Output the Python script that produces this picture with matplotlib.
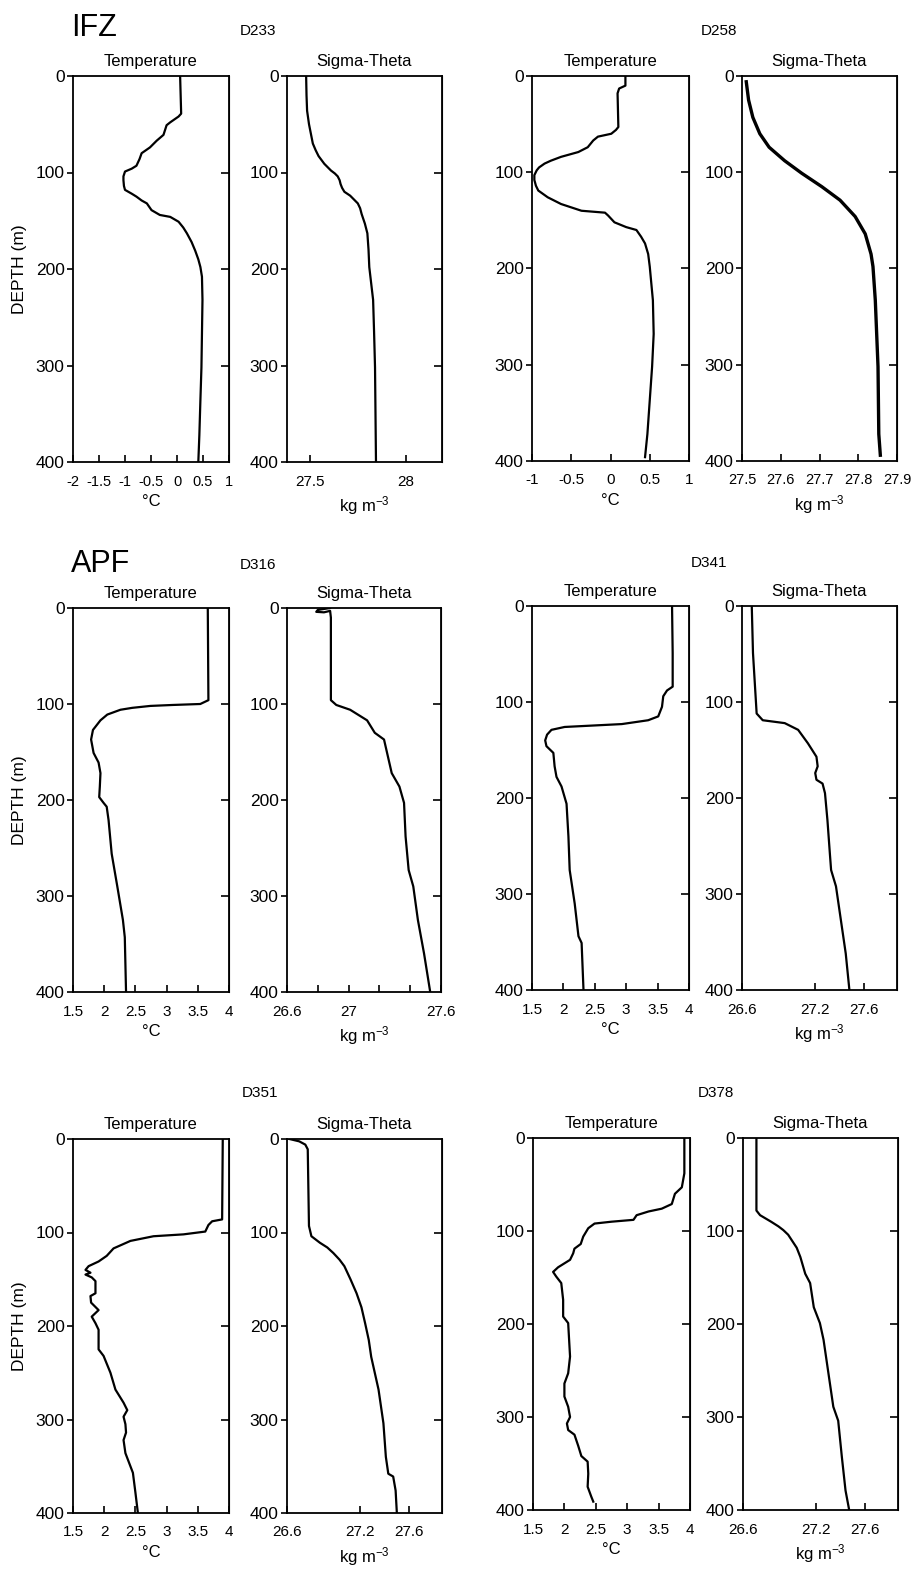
import numpy as np
import matplotlib.pyplot as plt

plt.rcParams['font.family'] = ['Liberation Sans', 'DejaVu Sans']
plt.rcParams['axes.unicode_minus'] = False
plt.rcParams['mathtext.default'] = 'regular'

# ---- data: (depth m, value) ----
d233_t_depth = [0, 39, 42, 48, 51, 56, 61, 67, 74, 80, 86, 93, 96, 99, 104, 108, 114, 118, 122, 125,
                129, 132, 139, 144, 146, 151, 157, 163, 172, 181, 190, 198, 208, 232, 267, 302, 336,
                372, 400]
d233_t = [0.06, 0.08, 0.03, -0.13, -0.2, -0.23, -0.26, -0.39, -0.52, -0.68, -0.72, -0.78, -0.87, -1.0,
          -1.03, -1.03, -1.02, -1.0, -0.87, -0.78, -0.68, -0.58, -0.49, -0.33, -0.13, 0.03, 0.12,
          0.19, 0.28, 0.35, 0.41, 0.45, 0.48, 0.49, 0.48, 0.47, 0.45, 0.43, 0.41]
d233_s_depth = [0, 20, 36, 50, 60, 70, 77, 83, 87, 91, 94, 98, 101, 104, 108, 112, 116, 120, 124, 128,
                132, 137, 143, 153, 163, 180, 198, 215, 232, 265, 302, 400]
d233_s = [27.48, 27.482, 27.485, 27.495, 27.505, 27.515, 27.53, 27.545, 27.56, 27.575, 27.59, 27.61,
          27.63, 27.645, 27.655, 27.66, 27.668, 27.68, 27.71, 27.73, 27.75, 27.762, 27.77, 27.787,
          27.80, 27.806, 27.81, 27.82, 27.83, 27.835, 27.84, 27.845]

d258_t_depth = [0, 10, 13, 18, 53, 56, 60, 63, 67, 74, 79, 84, 88, 91, 95, 98, 103, 108, 114, 119,
                126, 133, 140, 142, 145, 152, 157, 160, 167, 174, 185, 198, 233, 268, 302, 337, 372,
                396]
d258_t = [0.19, 0.19, 0.11, 0.09, 0.10, 0.07, 0.01, -0.16, -0.22, -0.29, -0.41, -0.63, -0.76, -0.84,
          -0.91, -0.94, -0.97, -0.97, -0.95, -0.92, -0.80, -0.63, -0.37, -0.07, -0.03, 0.05, 0.20,
          0.33, 0.39, 0.44, 0.48, 0.50, 0.54, 0.55, 0.53, 0.50, 0.47, 0.44]
d258_s_depth = [6, 25, 43, 60, 74, 88, 101, 115, 129, 146, 164, 185, 198, 233, 302, 372, 394]
d258_s = [27.511, 27.517, 27.528, 27.546, 27.57, 27.61, 27.654, 27.706, 27.753, 27.792, 27.818,
          27.833, 27.838, 27.844, 27.851, 27.853, 27.857]

d316_t_depth = [0, 96, 100, 101, 102, 104, 106, 111, 117, 127, 137, 151, 161, 172, 186, 197, 203, 207,
                221, 256, 290, 325, 343, 400]
d316_t = [3.66, 3.67, 3.54, 3.1, 2.74, 2.45, 2.26, 2.05, 1.94, 1.82, 1.79, 1.83, 1.91, 1.94, 1.93,
          1.92, 1.99, 2.04, 2.07, 2.12, 2.21, 2.30, 2.33, 2.35]
d316_s_depth = [0, 2, 4, 4.5, 3, 10, 96, 101, 106, 117, 130, 137, 151, 172, 186, 203, 238, 273, 290,
                325, 360, 400]
d316_s = [26.88, 26.80, 26.79, 26.84, 26.88, 26.885, 26.885, 26.92, 27.01, 27.12, 27.17, 27.23,
          27.25, 27.28, 27.33, 27.36, 27.37, 27.39, 27.42, 27.45, 27.49, 27.53]

d341_t_depth = [0, 49, 84, 88, 94, 105, 115, 119, 123, 126, 129, 134, 140, 146, 153, 167, 178, 188,
                206, 240, 275, 310, 344, 351, 400]
d341_t = [3.73, 3.74, 3.74, 3.65, 3.59, 3.57, 3.51, 3.35, 2.93, 2.02, 1.81, 1.74, 1.71, 1.73, 1.84,
          1.86, 1.89, 1.97, 2.05, 2.08, 2.10, 2.18, 2.24, 2.29, 2.32]
d341_s_depth = [0, 49, 112, 119, 122, 129, 143, 157, 167, 174, 181, 185, 195, 223, 258, 275, 292,
                327, 362, 400]
d341_s = [26.68, 26.69, 26.72, 26.77, 26.95, 27.06, 27.14, 27.21, 27.22, 27.20, 27.21, 27.26, 27.28,
          27.30, 27.32, 27.33, 27.37, 27.41, 27.45, 27.48]

d351_t_depth = [0, 86, 88, 92, 99, 102, 104, 109, 117, 125, 131, 136, 140, 143, 145, 148, 152, 165,
                168, 175, 183, 190, 197, 204, 225, 232, 250, 268, 282, 290, 297, 305, 314, 322, 336,
                350, 357, 378, 400]
d351_t = [3.90, 3.89, 3.73, 3.67, 3.62, 3.27, 2.79, 2.42, 2.15, 2.04, 1.91, 1.75, 1.70, 1.78, 1.70,
          1.80, 1.86, 1.86, 1.78, 1.79, 1.91, 1.80, 1.86, 1.91, 1.91, 1.99, 2.10, 2.18, 2.31, 2.37,
          2.31, 2.34, 2.35, 2.31, 2.34, 2.42, 2.46, 2.50, 2.54]
d351_s_depth = [0, 2.5, 6, 11, 93, 104, 111, 116, 122, 129, 136, 150, 165, 180, 197, 215, 233, 268,
                304, 340, 358, 361, 376, 400]
d351_s = [26.62, 26.70, 26.75, 26.77, 26.78, 26.80, 26.87, 26.93, 26.98, 27.03, 27.07, 27.12, 27.17,
          27.21, 27.24, 27.27, 27.29, 27.35, 27.39, 27.41, 27.43, 27.47, 27.49, 27.50]

d378_t_depth = [0, 38, 53, 60, 71, 76, 79, 83, 88, 90, 92, 97, 106, 114, 119, 124, 131, 139, 144,
                149, 156, 174, 192, 199, 235, 253, 264, 278, 289, 300, 307, 314, 319, 331, 342, 348,
                361, 375, 386, 391]
d378_t = [3.91, 3.91, 3.87, 3.76, 3.71, 3.55, 3.34, 3.15, 3.10, 2.75, 2.48, 2.38, 2.30, 2.26, 2.16,
          2.14, 2.09, 1.90, 1.82, 1.87, 1.95, 1.98, 1.98, 2.06, 2.09, 2.06, 2.00, 2.00, 2.06, 2.09,
          2.04, 2.06, 2.16, 2.22, 2.27, 2.37, 2.38, 2.37, 2.43, 2.46]
d378_s_depth = [0, 78, 83, 90, 95, 99, 104, 110, 118, 128, 146, 156, 182, 199, 217, 253, 289, 304,
                343, 379, 400]
d378_s = [26.71, 26.71, 26.74, 26.83, 26.89, 26.93, 26.97, 27.00, 27.04, 27.07, 27.11, 27.15, 27.18,
          27.23, 27.26, 27.30, 27.34, 27.38, 27.41, 27.44, 27.47]

# ---- layout in pixels ----
W, H = 914, 1578
fig = plt.figure(figsize=(W / 100, H / 100), dpi=100)


def rect(l, t, r, b):
    return [l / W, 1 - b / H, (r - l) / W, (b - t) / H]


def ftext(x, y, s, **kw):
    fig.text(x / W, 1 - y / H, s, **kw)


def panel(box, depth, vals, xlim, xticks, xlabels, title, xlabel, ylabel=False, lw=1.6,
          xsize=11):
    ax = fig.add_axes(rect(*box))
    ax.plot(vals, depth, color='black', lw=lw)
    ax.set_xlim(*xlim)
    ax.set_ylim(400, 0)
    ax.set_yticks([0, 100, 200, 300, 400])
    ax.set_yticklabels(['0', '100', '200', '300', '400'])
    ax.set_xticks(xticks)
    ax.set_xticklabels(xlabels)
    ax.tick_params(axis='y', direction='out', length=4, width=1.2, pad=2, labelsize=12.5)
    ax.tick_params(axis='x', direction='in', length=5, width=1.2, pad=9, labelsize=xsize)
    for sp in ax.spines.values():
        sp.set_linewidth(1.3)
    sec = ax.secondary_yaxis('right')
    sec.set_yticks([100, 200, 300])
    sec.set_yticklabels([])
    sec.tick_params(direction='in', length=6, width=1.2)
    ax.set_title(title, fontsize=12, pad=7)
    ax.set_xlabel(xlabel, fontsize=12, labelpad=4)
    if ylabel:
        ax.set_ylabel('DEPTH (m)', fontsize=12.5, labelpad=6)
    return ax


t_lab1 = ['-2', '-1.5', '-1', '-0.5', '0', '0.5', '1']
t_lab2 = ['-1', '-0.5', '0', '0.5', '1']
t_warm = [1.5, 2, 2.5, 3, 3.5, 4]
t_warm_lab = ['1.5', '2', '2.5', '3', '3.5', '4']
degc = '°C'
kgm = 'kg m$^{-3}$'

# row 1 : IFZ
panel((73, 76, 229, 462), d233_t_depth, d233_t, (-2, 1), [-2, -1.5, -1, -0.5, 0, 0.5, 1], t_lab1,
      'Temperature', degc, ylabel=True, xsize=10.5)
panel((287, 76, 442, 462), d233_s_depth, d233_s, (27.38, 28.19), [27.5, 28], ['27.5', '28'],
      'Sigma-Theta', kgm)
panel((532, 76, 689, 461), d258_t_depth, d258_t, (-1, 1), [-1, -0.5, 0, 0.5, 1], t_lab2,
      'Temperature', degc)
panel((742, 76, 897, 461), d258_s_depth, d258_s, (27.5, 27.9), [27.5, 27.6, 27.7, 27.8, 27.9],
      ['27.5', '27.6', '27.7', '27.8', '27.9'], 'Sigma-Theta', kgm, lw=2.4, xsize=10.5)

# row 2 : APF
panel((73, 608, 229, 992), d316_t_depth, d316_t, (1.5, 4), t_warm, t_warm_lab,
      'Temperature', degc, ylabel=True)
panel((287, 608, 441, 992), d316_s_depth, d316_s, (26.6, 27.6), [26.6, 26.8, 27.0, 27.2, 27.4, 27.6],
      ['26.6', '', '27', '', '', '27.6'], 'Sigma-Theta', kgm)
panel((532, 606, 689, 990), d341_t_depth, d341_t, (1.5, 4), t_warm, t_warm_lab,
      'Temperature', degc)
panel((742, 606, 897, 990), d341_s_depth, d341_s, (26.6, 27.87), [26.6, 27.2, 27.6],
      ['26.6', '27.2', '27.6'], 'Sigma-Theta', kgm)

# row 3
panel((73, 1139, 229, 1513), d351_t_depth, d351_t, (1.5, 4), t_warm, t_warm_lab,
      'Temperature', degc, ylabel=True)
panel((287, 1139, 442, 1513), d351_s_depth, d351_s, (26.6, 27.87), [26.6, 27.2, 27.6],
      ['26.6', '27.2', '27.6'], 'Sigma-Theta', kgm)
panel((533, 1138, 690, 1510), d378_t_depth, d378_t, (1.5, 4), t_warm, t_warm_lab,
      'Temperature', degc)
panel((743, 1138, 898, 1510), d378_s_depth, d378_s, (26.6, 27.87), [26.6, 27.2, 27.6],
      ['26.6', '27.2', '27.6'], 'Sigma-Theta', kgm)

# group and station labels
ftext(71, 36, 'IFZ', fontsize=22, ha='left', va='baseline')
ftext(71, 572, 'APF', fontsize=22, ha='left', va='baseline')
ftext(258, 31, 'D233', fontsize=11, ha='center', va='center')
ftext(719, 31, 'D258', fontsize=11, ha='center', va='center')
ftext(258, 565, 'D316', fontsize=11, ha='center', va='center')
ftext(709, 563, 'D341', fontsize=11, ha='center', va='center')
ftext(260, 1093, 'D351', fontsize=11, ha='center', va='center')
ftext(716, 1093, 'D378', fontsize=11, ha='center', va='center')

fig.savefig('out.png', dpi=100, facecolor='white')
